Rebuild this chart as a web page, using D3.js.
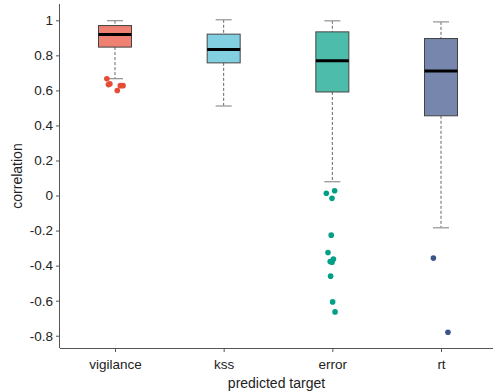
<!DOCTYPE html>
<html><head><meta charset="utf-8">
<script src="https://cdn.jsdelivr.net/npm/d3@7"></script>
<style>body{margin:0;background:#fff}svg{display:block;font-family:"Liberation Sans",Arial,sans-serif}</style>
</head><body><svg id="c" width="493" height="392"></svg>
<script>
const categories = ["vigilance","kss","error","rt"];
const whiskerLow  = [0.667, 0.511, 0.079, -0.184];
const q1          = [0.847, 0.757, 0.591, 0.455];
const medians     = [0.919, 0.833, 0.769, 0.711];
const q3          = [0.970, 0.921, 0.934, 0.896];
const whiskerHigh = [0.998, 1.003, 0.997, 0.991];
const outliersVigilance = [0.666, 0.633, 0.637, 0.599, 0.627, 0.627];
const outliersError = [0.027, 0.013, -0.016, -0.226, -0.325, -0.363, -0.376, -0.38, -0.46, -0.607, -0.664];
const outliersRt = [-0.357, -0.78];
const outlierJitter = { // horizontal offset in band units
  vigilance: [-0.075, -0.06, -0.047, 0.021, 0.049, 0.074],
  error: [0.021, -0.055, -0.003, -0.01, -0.04, 0.01, -0.02, -0.003, -0.016, 0.003, 0.025],
  rt: [-0.07, 0.064]
};
const yTicks = [1, 0.8, 0.6, 0.4, 0.2, 0, -0.2, -0.4, -0.6, -0.8];
const fills = ["#EE8172", "#82CFE2", "#4DBCAB", "#7786AC"];
const pointColors = ["#E64B35", "#4DBBD5", "#00A087", "#3C5488"];

const outliers = [outliersVigilance, [], outliersError, outliersRt];
const jit = [outlierJitter.vigilance, [], outlierJitter.error, outlierJitter.rt];

const svg = d3.select("#c");
const mLeft = 60, mRight = 493, mTop = 4, mBottom = 348;
const x = d3.scalePoint().domain(categories).range([115, 441]);
const y = d3.scaleLinear().domain([-0.87, 1.093]).range([mBottom, mTop]);
const bw = 33, cap = 16, step = x.step();

const yAxis = svg.append("g").attr("transform",`translate(${mLeft},0)`)
  .call(d3.axisLeft(y).tickValues(yTicks).tickFormat(d => String(+d.toFixed(1))).tickSize(4).tickSizeOuter(0));
const xAxis = svg.append("g").attr("transform",`translate(0,${mBottom})`)
  .call(d3.axisBottom(x).tickSize(4).tickSizeOuter(0));
xAxis.select(".domain").attr("d", `M${mLeft},0.5H${mRight}`);
yAxis.select(".domain").attr("d", `M-0.5,${mTop}V${mBottom}`);
[xAxis, yAxis].forEach(a => {
  a.selectAll(".domain").attr("stroke","#555");
  a.selectAll(".tick line").attr("stroke","#555");
  a.selectAll(".tick text").attr("fill","#222").attr("font-size",13.5);
});
yAxis.selectAll(".tick text").attr("x",-7);
xAxis.selectAll(".tick text").attr("y",11);

svg.append("text").attr("x",(mLeft+mRight)/2).attr("y",388).attr("text-anchor","middle")
  .attr("font-size",14).attr("fill","#222").text("predicted target");
svg.append("text").attr("transform",`translate(22,${(mTop+mBottom)/2}) rotate(-90)`)
  .attr("text-anchor","middle").attr("font-size",14).attr("fill","#222").text("correlation");

categories.forEach((c,i) => {
  const cx = x(c);
  const g = svg.append("g");
  g.append("line").attr("x1",cx).attr("x2",cx).attr("y1",y(whiskerHigh[i])).attr("y2",y(q3[i]))
    .attr("stroke","#666").attr("stroke-dasharray","3,2").attr("stroke-width",1);
  g.append("line").attr("x1",cx).attr("x2",cx).attr("y1",y(q1[i])).attr("y2",y(whiskerLow[i]))
    .attr("stroke","#666").attr("stroke-dasharray","3,2").attr("stroke-width",1);
  [whiskerHigh[i], whiskerLow[i]].forEach(v => {
    g.append("line").attr("x1",cx-cap/2).attr("x2",cx+cap/2).attr("y1",y(v)).attr("y2",y(v))
      .attr("stroke","#999").attr("stroke-width",1.3);
  });
  g.append("rect").attr("x",cx-bw/2).attr("y",y(q3[i])).attr("width",bw).attr("height",y(q1[i])-y(q3[i]))
    .attr("fill",fills[i]).attr("stroke","#444").attr("stroke-width",1);
  g.append("line").attr("x1",cx-bw/2).attr("x2",cx+bw/2).attr("y1",y(medians[i])).attr("y2",y(medians[i]))
    .attr("stroke","#000").attr("stroke-width",3);
  outliers[i].forEach((v,k) => {
    g.append("circle").attr("cx",cx + jit[i][k]*step).attr("cy",y(v)).attr("r",2.8).attr("fill",pointColors[i]);
  });
});
</script></body></html>
